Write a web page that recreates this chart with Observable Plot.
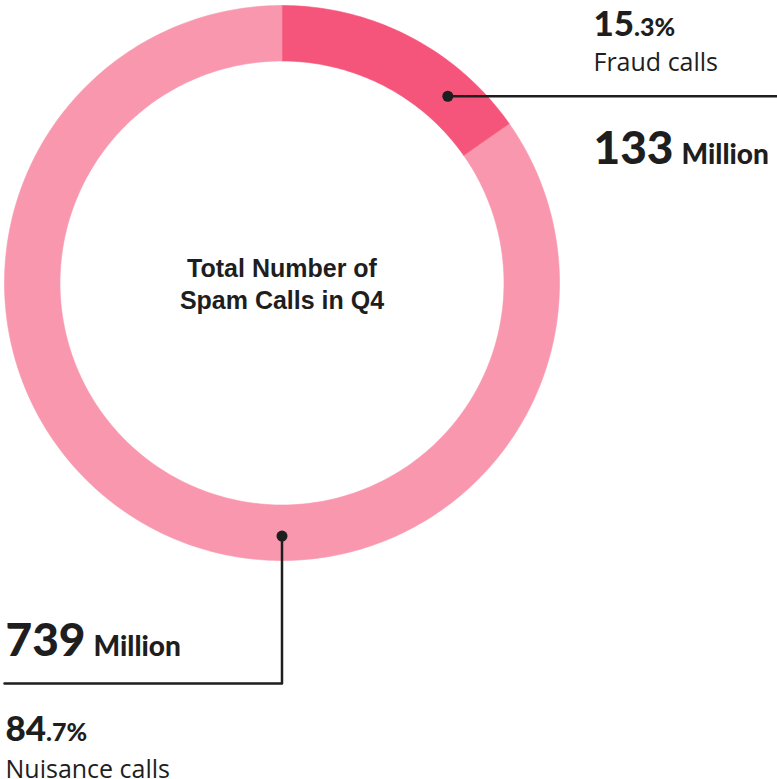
<!DOCTYPE html>
<html>
<head>
<meta charset="utf-8">
<script src="https://cdn.jsdelivr.net/npm/d3@7"></script>
<script src="https://cdn.jsdelivr.net/npm/@observablehq/plot@0.6"></script>
<style>
  html, body { margin: 0; padding: 0; background: #fff; }
  #chart svg { display: block; }
</style>
</head>
<body>
<div id="chart"></div>
<script>
// ---- data ----
const segments = ["Fraud calls", "Nuisance calls"];
const percents = [15.3, 84.7];
const millions = [133, 739];
const colors = ["#F5557A", "#F897AD"];
const centerTitle = ["Total Number of", "Spam Calls in Q4"];

// ---- layout ----
const W = 777, H = 779;
const CX = 281.5, CY = 282.5, R = 277.5;   // px
const INNER = 222 / R;                     // inner radius in units
const FONT = "Lato, 'Noto Sans', sans-serif";
const LABEL_FONT = "'Open Sans', 'Noto Sans', sans-serif";
const TITLE_FONT = "'Liberation Sans', Arial, sans-serif";
const ink = "#1e1e1e";
const ux = px => (px - CX) / R;
const uy = px => (px - CY) / R;

// arc polygons computed from the values
const arcs = [];
let cum = 0;
segments.forEach((s, i) => {
  const a0 = cum / 100 * 2 * Math.PI;
  cum += percents[i];
  const a1 = cum / 100 * 2 * Math.PI;
  const n = Math.max(20, Math.round(percents[i] * 4));
  const pts = [];
  for (let k = 0; k <= n; k++) {
    const a = a0 + (a1 - a0) * k / n;
    pts.push({seg: s, x: Math.sin(a), y: -Math.cos(a)});
  }
  for (let k = n; k >= 0; k--) {
    const a = a0 + (a1 - a0) * k / n;
    pts.push({seg: s, x: INNER * Math.sin(a), y: -INNER * Math.cos(a)});
  }
  arcs.push(pts);
});

// text measuring
const ctx = document.createElement("canvas").getContext("2d");
function tw(str, size, weight, font = FONT) {
  ctx.font = `${weight} ${size}px ${font}`;
  return ctx.measureText(str).width;
}

// callouts
const midR = 0.9;
const fraudAng = 41.6 * Math.PI / 180;
const nuisAng = Math.PI;
const fraudDot = {x: midR * Math.sin(fraudAng), y: -midR * Math.cos(fraudAng)};
const nuisDot = {x: midR * Math.sin(nuisAng) , y: -0.912 * Math.cos(nuisAng)};
const fraudLine = [fraudDot, {x: ux(W), y: fraudDot.y}];
const nuisLine = [nuisDot, {x: nuisDot.x, y: uy(683)}, {x: -1, y: uy(683)}];

const bigPctSize = 35, smallPctSize = 25, labelSize = 25, bigNumSize = 46, millionSize = 28;

function pctLabel(i, xpx, ypx) {
  const [intPart, dec] = percents[i].toFixed(1).split(".");
  const w = tw(intPart, bigPctSize, 900);
  return [
    Plot.text([intPart], {x: () => ux(xpx), y: () => uy(ypx), text: d => d, textAnchor: "start", lineAnchor: "bottom", fontSize: bigPctSize, fontWeight: 900, fill: ink, fontFamily: FONT}),
    Plot.text(["." + dec + "%"], {x: () => ux(xpx), y: () => uy(ypx), dx: w, text: d => d, textAnchor: "start", lineAnchor: "bottom", fontSize: smallPctSize, fontWeight: 900, fill: ink, fontFamily: FONT})
  ];
}
function numLabel(i, xpx, ypx) {
  const s = String(millions[i]);
  const w = tw(s, bigNumSize, 900);
  return [
    Plot.text([s], {x: () => ux(xpx), y: () => uy(ypx), text: d => d, textAnchor: "start", lineAnchor: "bottom", fontSize: bigNumSize, fontWeight: 900, fill: ink, fontFamily: FONT}),
    Plot.text(["Million"], {x: () => ux(xpx), y: () => uy(ypx), dx: w + 8, text: d => d, textAnchor: "start", lineAnchor: "bottom", fontSize: millionSize, fontWeight: 900, fill: ink, fontFamily: FONT})
  ];
}
function nameLabel(i, xpx, ypx) {
  return Plot.text([segments[i]], {x: () => ux(xpx), y: () => uy(ypx), text: d => d, textAnchor: "start", lineAnchor: "bottom", fontSize: labelSize, fontWeight: 400, fill: ink, fontFamily: LABEL_FONT});
}

const chart = Plot.plot({
  width: W, height: H,
  margin: 0,
  x: {domain: [ux(0), ux(W)], range: [0, W], axis: null},
  y: {domain: [uy(0), uy(H)], range: [0, H], axis: null},
  style: {fontFamily: FONT, background: "#fff"},
  marks: [
    ...arcs.map((pts, i) => Plot.line(pts, {x: "x", y: "y", fill: colors[i], stroke: colors[i], strokeWidth: 0.6, curve: "linear-closed"})),
    Plot.line(fraudLine, {x: "x", y: "y", stroke: ink, strokeWidth: 2.5}),
    Plot.line(nuisLine, {x: "x", y: "y", stroke: ink, strokeWidth: 2.5}),
    Plot.dot([fraudDot, nuisDot], {x: "x", y: "y", r: 5.5, fill: ink}),
    Plot.text([centerTitle.join("\n")], {x: () => 0, y: () => uy(308), text: d => d, textAnchor: "middle", lineAnchor: "bottom", lineHeight: 1.28, fontSize: 25, fontWeight: 700, fill: ink, fontFamily: TITLE_FONT}),
    ...pctLabel(0, 593, 35),
    nameLabel(0, 593, 70),
    ...numLabel(0, 593, 163),
    ...numLabel(1, 5, 655),
    ...pctLabel(1, 5, 740),
    nameLabel(1, 5, 777)
  ]
});
document.getElementById("chart").appendChild(chart);
</script>
</body>
</html>
